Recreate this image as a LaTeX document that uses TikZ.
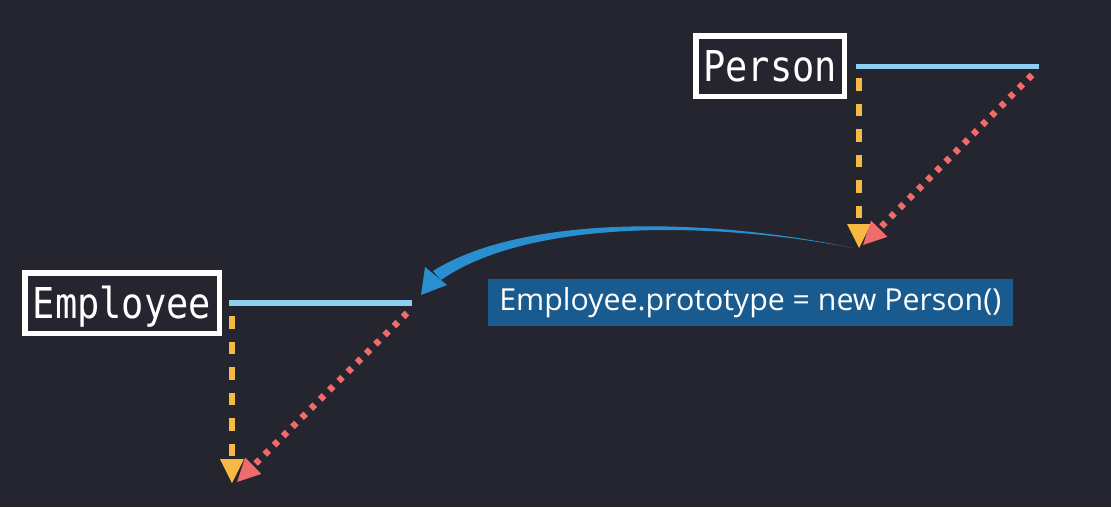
\documentclass[tikz,border=0pt]{standalone}
\usepackage{fontspec}
\usetikzlibrary{arrows.meta}
\newfontfamily\boxmono[FakeStretch=0.87]{DejaVu Sans Mono}
\newfontfamily\labelsans{Open Sans}
\definecolor{bgc}{HTML}{24252E}
\definecolor{linkblue}{HTML}{8CCFF0}
\definecolor{orangec}{HTML}{F7B942}
\definecolor{redc}{HTML}{F06B6B}
\definecolor{brushblue}{HTML}{2A8FD0}
\definecolor{labelbg}{HTML}{1A5B8F}
\tikzset{
  objbox/.style={draw=white, line width=5.5pt, inner sep=0pt, text=white,
    font=\boxmono\fontsize{42.5}{44}\selectfont, text height=31pt, text depth=0pt,
    minimum height=60.5pt},
  protoline/.style={linkblue, line width=5.5pt},
  ownarrow/.style={orangec, line width=6pt, dash pattern=on 12.7pt off 12.8pt,
    -{Triangle[length=24pt,width=24pt,line width=0pt]}},
  protoarrow/.style={redc, line width=6.5pt, dash pattern=on 5.5pt off 7.5pt,
    -{Triangle[length=23pt,width=23pt,line width=0pt]}},
  codelabel/.style={fill=labelbg, text=white, inner sep=0pt,
    font=\labelsans\fontsize{30.3}{33}\selectfont, minimum width=525.4pt, minimum height=47.4pt}
}
\begin{document}
\begin{tikzpicture}[x=1pt,y=-1pt]
\fill[bgc] (0,0) rectangle (1111,507);
\useasboundingbox (0,0) rectangle (1111,507);

% Person
\node[objbox, minimum width=148.5pt] (person) at (770,66) {Person};
\coordinate (pL) at (856,66.5);
\coordinate (pR) at (1039,66.5);
\coordinate (pDs) at (859,78);
\coordinate (pDe) at (859,248);
\coordinate (pRs) at (1032,75);
\coordinate (pRe) at (863,245);
\draw[protoline] (pL) -- (pR);
\draw[ownarrow] (pDs) -- (pDe);
\draw[protoarrow] (pRs) -- (pRe);

% Employee
\node[objbox, minimum width=194.5pt] (employee) at (122,303) {Employee};
\coordinate (eL) at (229,303);
\coordinate (eR) at (412,303);
\coordinate (eDs) at (232,316);
\coordinate (eDe) at (232,483);
\coordinate (eRs) at (407,313);
\coordinate (eRe) at (237,482);
\draw[protoline] (eL) -- (eR);
\draw[ownarrow] (eDs) -- (eDe);
\draw[protoarrow] (eRs) -- (eRe);

% brush arrow
\fill[brushblue] (853,248) .. controls (700,216) and (520,216) .. (433,271)
  -- (441,280) .. controls (524,222) and (700,219) .. (853,248) -- cycle;
\fill[brushblue] (425,267) -- (447,285) -- (421,295) -- cycle;

% label
\node[codelabel] (code) at (750.3,302.3) {Employee.prototype = new Person()};
\end{tikzpicture}
\end{document}
